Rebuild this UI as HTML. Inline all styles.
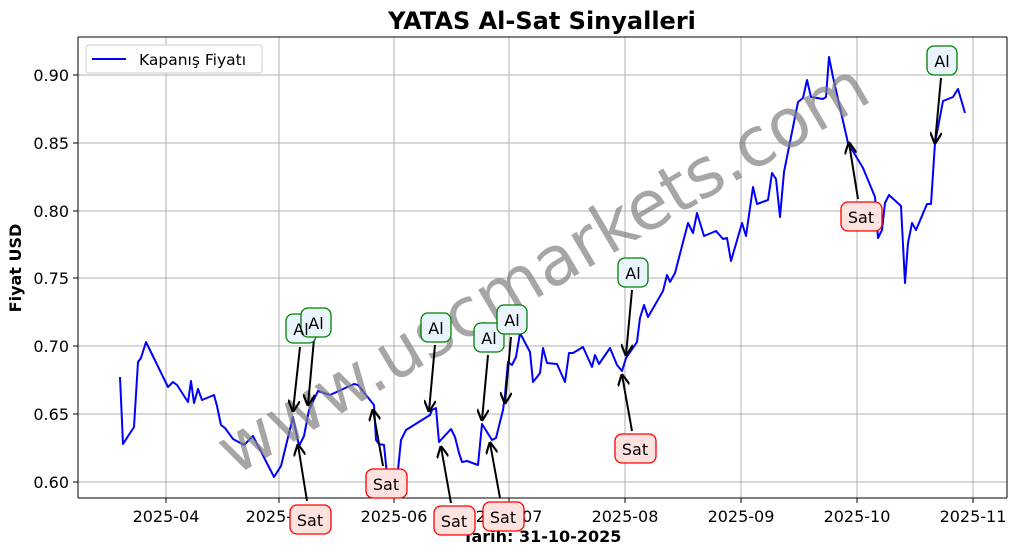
<!DOCTYPE html>
<html><head><meta charset="utf-8"><style>
html,body{margin:0;padding:0;background:#fff;}
svg{display:block;font-family:"DejaVu Sans","Liberation Sans",sans-serif;}
</style></head><body>
<svg width="1017" height="554" viewBox="0 0 1017 554" xmlns="http://www.w3.org/2000/svg">
<defs><marker id="ah" viewBox="0 0 10 10" refX="9" refY="5" markerWidth="6" markerHeight="6" orient="auto-start-reverse"><path d="M0,0 L10,5 L0,10" fill="none" stroke="#000" stroke-width="1.8"/></marker></defs>
<rect width="1017" height="554" fill="#fff"/>
<g stroke="#b0b0b0" stroke-width="1">
<line x1="166" y1="37" x2="166" y2="498"/><line x1="279" y1="37" x2="279" y2="498"/><line x1="394" y1="37" x2="394" y2="498"/><line x1="509" y1="37" x2="509" y2="498"/><line x1="625" y1="37" x2="625" y2="498"/><line x1="741" y1="37" x2="741" y2="498"/><line x1="857" y1="37" x2="857" y2="498"/><line x1="973" y1="37" x2="973" y2="498"/>
<line x1="78" y1="75" x2="1007" y2="75"/><line x1="78" y1="143" x2="1007" y2="143"/><line x1="78" y1="211" x2="1007" y2="211"/><line x1="78" y1="278" x2="1007" y2="278"/><line x1="78" y1="346" x2="1007" y2="346"/><line x1="78" y1="414" x2="1007" y2="414"/><line x1="78" y1="482" x2="1007" y2="482"/>
</g>
<polyline fill="none" stroke="#0000ff" stroke-width="2" stroke-linejoin="round" points="120,377 123,444 134,427 138,362 141,358 146,342 168,387 173,382 177,385 188,402 191,381 194,403 198,389 202,400 214,395 217,406 221,425 225,428 233,439 244,445 253,436 274,477 281,466 293,417 299,446 304,436 309,410 318,391 330,395 354,384 358,385 374,405 376,440 379,444 384,445 387,475 390,497 398,470 401,440 406,430 430,415 432,410 436,408 439,442 451,429 455,437 459,453 462,462 467,461 478,465 482,424 487,432 492,440 496,438 503,410 505,395 508,362 512,365 516,357 520,333 530,352 533,382 537,377 540,373 543,348 547,363 557,364 565,382 569,353 573,353 583,347 592,367 595,355 599,364 610,348 617,365 622,371 626,358 637,342 640,318 644,305 648,317 663,291 667,275 670,282 675,273 688,223 693,233 697,213 704,236 716,231 723,239 727,238 731,261 742,223 746,236 753,187 757,204 768,200 772,173 776,179 780,217 784,172 798,102 803,98 807,80 811,97 823,99 826,97 829,57 833,77 848,143 863,168 875,197 878,238 882,230 885,203 889,195 901,206 905,283 908,243 912,223 916,230 927,204 931,204 935,143 943,101 953,97 958,89 965,113"/>
<line x1="78" y1="37" x2="78" y2="498" stroke="#000"/><line x1="1007" y1="37" x2="1007" y2="498" stroke="#000"/>
<line x1="78" y1="37" x2="1007" y2="37" stroke="#000"/><line x1="78" y1="498" x2="1007" y2="498" stroke="#000"/>
<g stroke="#000"><line x1="166" y1="498" x2="166" y2="503"/><line x1="279" y1="498" x2="279" y2="503"/><line x1="394" y1="498" x2="394" y2="503"/><line x1="509" y1="498" x2="509" y2="503"/><line x1="625" y1="498" x2="625" y2="503"/><line x1="741" y1="498" x2="741" y2="503"/><line x1="857" y1="498" x2="857" y2="503"/><line x1="973" y1="498" x2="973" y2="503"/>
<line x1="73" y1="75" x2="78" y2="75"/><line x1="73" y1="143" x2="78" y2="143"/><line x1="73" y1="211" x2="78" y2="211"/><line x1="73" y1="278" x2="78" y2="278"/><line x1="73" y1="346" x2="78" y2="346"/><line x1="73" y1="414" x2="78" y2="414"/><line x1="73" y1="482" x2="78" y2="482"/></g>
<g font-size="16" fill="#000" text-anchor="end"><text x="69" y="81">0.90</text><text x="69" y="149">0.85</text><text x="69" y="217">0.80</text><text x="69" y="284">0.75</text><text x="69" y="352">0.70</text><text x="69" y="420">0.65</text><text x="69" y="488">0.60</text></g>
<g font-size="16" fill="#000" text-anchor="middle"><text x="166" y="522">2025-04</text><text x="279" y="522">2025-05</text><text x="394" y="522">2025-06</text><text x="509" y="522">2025-07</text><text x="625" y="522">2025-08</text><text x="741" y="522">2025-09</text><text x="857" y="522">2025-10</text><text x="973" y="522">2025-11</text></g>
<text x="542" y="29" font-size="24" font-weight="bold" text-anchor="middle">YATAS Al-Sat Sinyalleri</text>
<text x="542" y="542" font-size="16" font-weight="bold" text-anchor="middle">Tarih: 31-10-2025</text>
<text transform="translate(21,268) rotate(-90)" font-size="16" font-weight="bold" text-anchor="middle">Fiyat USD</text>
<rect x="86" y="45" width="176" height="28" rx="3" fill="#fff" stroke="#ccc"/>
<line x1="92" y1="59" x2="126" y2="59" stroke="#0000ff" stroke-width="2"/>
<text x="139" y="65" font-size="15.5">Kapanış Fiyatı</text>
<text transform="translate(545,272) rotate(-30.5)" font-size="68" fill="#808080" fill-opacity="0.7" text-anchor="middle" dominant-baseline="middle">www.uscmarkets.com</text>
<g stroke="#000" stroke-width="2" marker-end="url(#ah)">
<line x1="300" y1="347" x2="293" y2="411"/><line x1="314" y1="339" x2="308" y2="405"/>
<line x1="307" y1="501" x2="298" y2="445"/><line x1="383" y1="466" x2="373" y2="410"/>
<line x1="435" y1="345" x2="429" y2="411"/><line x1="451" y1="503" x2="441" y2="447"/>
<line x1="488" y1="355" x2="482" y2="420"/><line x1="511" y1="337" x2="505" y2="403"/>
<line x1="500" y1="498" x2="490" y2="443"/><line x1="632" y1="290" x2="626" y2="355"/>
<line x1="632" y1="431" x2="622" y2="375"/><line x1="858" y1="199" x2="849" y2="143"/>
<line x1="941" y1="78" x2="935" y2="143"/>
</g>
<g font-size="16" text-anchor="middle">
<g fill="#eaf4fc" stroke="green" stroke-width="1.3">
<rect x="286" y="314" width="30" height="29" rx="7"/><rect x="301" y="308" width="30" height="29" rx="7"/>
<rect x="421" y="313" width="30" height="29" rx="7"/><rect x="474" y="323" width="30" height="29" rx="7"/>
<rect x="497" y="305" width="30" height="29" rx="7"/><rect x="618" y="258" width="30" height="29" rx="7"/>
<rect x="927" y="46" width="30" height="29" rx="7"/></g>
<g fill="#000"><text x="301" y="335">Al</text><text x="316" y="329">Al</text><text x="436" y="334">Al</text><text x="489" y="344">Al</text><text x="512" y="326">Al</text><text x="633" y="279">Al</text><text x="942" y="67">Al</text></g>
<g fill="#fde2df" stroke="red" stroke-width="1.3">
<rect x="290" y="505" width="41" height="29" rx="7"/><rect x="366" y="469" width="41" height="29" rx="7"/>
<rect x="434" y="506" width="41" height="29" rx="7"/><rect x="483" y="502" width="41" height="29" rx="7"/>
<rect x="615" y="434" width="41" height="29" rx="7"/><rect x="841" y="202" width="41" height="29" rx="7"/></g>
<g fill="#000"><text x="310" y="526">Sat</text><text x="386" y="490">Sat</text><text x="454" y="527">Sat</text><text x="503" y="523">Sat</text><text x="635" y="455">Sat</text><text x="861" y="223">Sat</text></g>
</g>
</svg>
</body></html>
